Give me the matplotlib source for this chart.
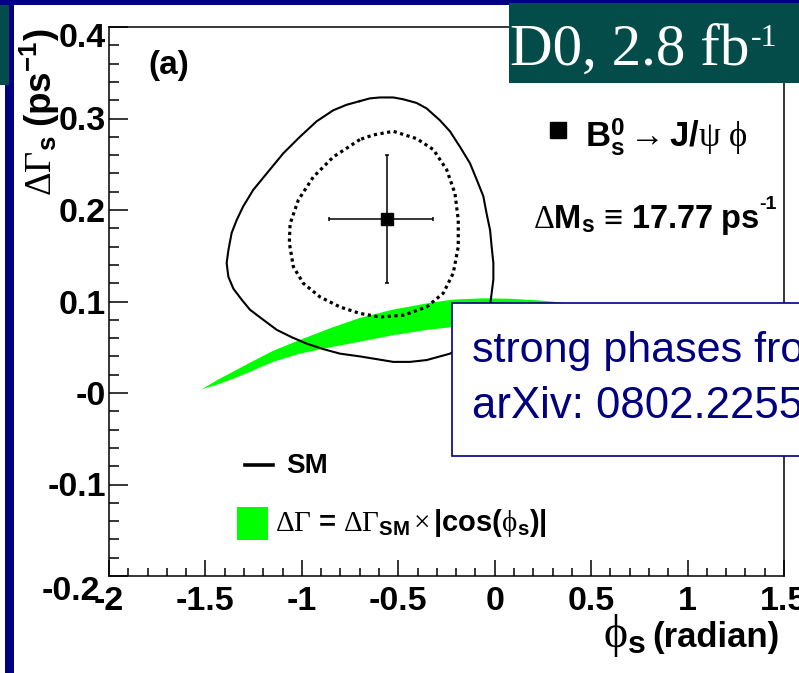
"""D0 Bs -> J/psi phi: Delta Gamma_s vs phi_s contours (slide-style reproduction)."""
import numpy as np
import matplotlib
matplotlib.use("Agg")
import matplotlib.pyplot as plt
import matplotlib.transforms as mtransforms
from matplotlib.patches import Rectangle
from matplotlib.text import Annotation
from matplotlib.ticker import MultipleLocator

# ---- values ----
# 90% CL contour (solid), clockwise from the top
solid_phi = [-0.699, -0.647, -0.595, -0.526, -0.474, -0.405, -0.353, -0.284,
             -0.232, -0.180, -0.128, -0.093, -0.059, -0.042, -0.024, -0.016,
             -0.007, -0.007, -0.016, -0.024, -0.050, -0.097, -0.164, -0.232,
             -0.353, -0.439, -0.526, -0.612, -0.699, -0.802, -0.889, -0.975,
             -1.053, -1.130, -1.200, -1.269, -1.312, -1.355, -1.381, -1.390,
             -1.381, -1.364, -1.338, -1.304, -1.252, -1.182, -1.096, -1.010,
             -0.923, -0.837, -0.768]
solid_dg = [0.319, 0.322, 0.323, 0.323, 0.321, 0.317, 0.311, 0.298,
            0.286, 0.269, 0.251, 0.233, 0.215, 0.196, 0.178, 0.160,
            0.142, 0.124, 0.109, 0.096, 0.080, 0.063, 0.051, 0.043,
            0.036, 0.034, 0.034, 0.037, 0.040, 0.043, 0.048, 0.054,
            0.061, 0.069, 0.080, 0.091, 0.102, 0.114, 0.127, 0.142,
            0.156, 0.175, 0.189, 0.204, 0.222, 0.240, 0.262, 0.280,
            0.297, 0.309, 0.315]

# 68% CL contour (dotted)
dotted_phi = [-0.699, -0.837, -0.941, -1.018, -1.061, -1.065, -1.044, -0.993,
              -0.906, -0.802, -0.699, -0.595, -0.474, -0.353, -0.267, -0.215,
              -0.189, -0.189, -0.206, -0.249, -0.318, -0.405, -0.526, -0.630]
dotted_dg = [0.277, 0.258, 0.236, 0.211, 0.185, 0.164, 0.138, 0.120,
             0.105, 0.094, 0.087, 0.083, 0.085, 0.094, 0.109, 0.131,
             0.160, 0.189, 0.218, 0.244, 0.266, 0.278, 0.286, 0.282]

# SM band: upper / lower edge
band_phi = [-1.519, -1.44, -1.35, -1.27, -1.15, -1.01, -0.85, -0.70, -0.53,
            -0.35, -0.22, -0.06, 0.08, 0.24, 0.38, 0.60, 0.90, 1.20, 1.519]
band_hi = [0.004, 0.014, 0.024, 0.033, 0.046, 0.058, 0.071, 0.082, 0.091,
           0.098, 0.102, 0.1035, 0.103, 0.101, 0.098, 0.085, 0.065, 0.038, 0.004]
band_lo = [0.004, 0.009, 0.016, 0.023, 0.034, 0.043, 0.050, 0.056, 0.063,
           0.069, 0.072, 0.074, 0.074, 0.072, 0.070, 0.061, 0.046, 0.027, 0.004]

best_phi, best_dg = -0.56, 0.19
best_phi_err = [[0.30], [0.24]]
best_dg_err = [[0.07], [0.07]]

x_ticks = [-2, -1.5, -1, -0.5, 0, 0.5, 1, 1.5]
x_ticklabels = ["-2", "-1.5", "-1", "-0.5", "0", "0.5", "1", "1.5"]
y_ticks = [-0.2, -0.1, 0, 0.1, 0.2, 0.3, 0.4]
y_ticklabels = ["-0.2", "-0.1", "-0", "0.1", "0.2", "0.3", "0.4"]

NAVY = "#000080"
TEAL = "#034C4A"
GREEN = "#00FF00"

plt.rcParams["mathtext.fontset"] = "custom"
plt.rcParams["mathtext.rm"] = "Liberation Serif"
plt.rcParams["mathtext.it"] = "Liberation Serif:italic"
plt.rcParams["mathtext.bf"] = "Liberation Sans:bold"
plt.rcParams["mathtext.sf"] = "Liberation Sans"
plt.rcParams["font.family"] = ["Liberation Sans", "DejaVu Sans"]

fig = plt.figure(figsize=(7.99, 6.73), dpi=100)
W, H = 799.0, 673.0
ax = fig.add_axes([109 / W, 97 / H, 675 / W, 549 / H])

# green SM band
ax.fill(np.concatenate([band_phi, band_phi[::-1]]),
        np.concatenate([band_hi, band_lo[::-1]]),
        color=GREEN, lw=0, zorder=1)

# contours
ax.plot(np.append(solid_phi, solid_phi[0]), np.append(solid_dg, solid_dg[0]),
        color="black", lw=1.5, zorder=3, solid_joinstyle="round")
ax.plot(np.append(dotted_phi, dotted_phi[0]), np.append(dotted_dg, dotted_dg[0]),
        color="black", lw=2.3, ls=(0, (1, 1.1)), dash_capstyle="butt", zorder=3)

# best fit point
ax.errorbar([best_phi], [best_dg], xerr=best_phi_err, yerr=best_dg_err,
            fmt="s", color="black", ms=8, lw=1.1, capsize=1.5, capthick=1.1, zorder=4)

ax.set_xlim(-2, 1.5)
ax.set_ylim(-0.2, 0.4)
ax.set_xticks(x_ticks, labels=x_ticklabels)
ax.set_yticks(y_ticks, labels=y_ticklabels)
ax.xaxis.set_minor_locator(MultipleLocator(0.1))
ax.yaxis.set_minor_locator(MultipleLocator(0.02))
ax.tick_params(axis="x", which="major", direction="in", length=11.5, width=1.1, pad=7)
ax.tick_params(axis="x", which="minor", direction="in", length=5.5, width=1.1)
ax.tick_params(axis="y", which="major", direction="in", length=13.7, width=1.1, pad=2)
ax.tick_params(axis="y", which="minor", direction="in", length=7, width=1.1)
ax.tick_params(top=False, right=False, which="both")
for sp in ax.spines.values():
    sp.set_linewidth(1.1)
for lbl in ax.get_xticklabels() + ax.get_yticklabels():
    lbl.set_fontsize(24.5)
    lbl.set_fontweight("bold")

# ROOT nudges the end labels
ylabs = ax.get_yticklabels()
ylabs[-1].set_transform(ylabs[-1].get_transform()
                        + mtransforms.ScaledTranslation(0, -0.08, fig.dpi_scale_trans))
ylabs[0].set_transform(ylabs[0].get_transform()
                       + mtransforms.ScaledTranslation(-0.06, -0.12, fig.dpi_scale_trans))

# axis titles
ax.text(0.994, -0.129, "(radian)", transform=ax.transAxes, ha="right", va="baseline",
        fontsize=25, fontweight="bold")
ax.text(0.795, -0.129, r"$\mathrm{\phi}_{\mathbf{s}}$",
        transform=ax.transAxes, ha="right", va="baseline", fontsize=33)
ax.text(-0.102, 0.998, r"$\mathrm{\Delta\Gamma}_{\mathbf{s}}\ \mathbf{(ps^{-1})}$",
        transform=ax.transAxes, ha="center", va="top", rotation=90, fontsize=26.5)

# annotations
ax.text(0.058, 0.929, "(a)", transform=ax.transAxes, ha="left", va="center",
        fontsize=24, fontweight="bold")
ax.plot([0.6657], [0.8124], "s", color="black", ms=12, transform=ax.transAxes)
ax.text(0.705, 0.7814,
        r"$\mathbf{B}_{\mathbf{s}}^{\mathbf{0}}\rightarrow\mathbf{J/}\mathrm{\psi}\ \mathrm{\phi}$",
        transform=ax.transAxes, ha="left", va="baseline", fontsize=25)
t_dm = ax.text(0.628, 0.634,
               r"$\mathrm{\Delta}\mathbf{M}_{\mathbf{s}}\,\mathbf{\equiv}\,\mathbf{17.77\ ps}$",
               transform=ax.transAxes, ha="left", va="baseline", fontsize=23.5)
ax.annotate("-1", xy=(1, 1), xycoords=t_dm, xytext=(0, 5), textcoords="offset points",
            ha="left", va="top", fontsize=14, fontweight="bold")

# legend
ax.plot([0.2015, 0.243], [0.2022, 0.2022], color="black", lw=2.6, transform=ax.transAxes)
ax.text(0.262, 0.2004, "SM", transform=ax.transAxes, ha="left", va="center",
        fontsize=20, fontweight="bold")
ax.add_patch(Rectangle((0.189, 0.0656), 0.047, 0.0604, transform=ax.transAxes,
                       color=GREEN, lw=0))
ax.text(0.246, 0.0965,
        r"$\mathrm{\Delta\Gamma}\,\mathbf{=}\,\mathrm{\Delta\Gamma}_{\mathbf{SM}}\,"
        r"\mathrm{\times}\,\mathbf{|cos(}\mathrm{\phi}_{\mathbf{s}}\mathbf{)|}$",
        transform=ax.transAxes, ha="left", va="center", fontsize=21)

# ---- slide decorations ----
tf = fig.transFigure
fig.add_artist(Rectangle((0, 1 - 5 / H), 1, 5 / H, transform=tf, color=NAVY, lw=0, zorder=20))
fig.add_artist(Rectangle((5 / W, 0), 9 / W, 1, transform=tf, color=NAVY, lw=0, zorder=20))
fig.add_artist(Rectangle((0, 1 - 85 / H), 9 / W, 80 / H, transform=tf, color=TEAL, lw=0, zorder=21))
fig.add_artist(Rectangle((509 / W, 1 - 83 / H), 1, 80 / H, transform=tf, color=TEAL, lw=0, zorder=21))
t_d0 = fig.text(510 / W, 1 - 65 / H, "D0, 2.8 fb", color="white",
                family="Liberation Serif", fontsize=42.5, ha="left", va="baseline", zorder=22)
fig.add_artist(Annotation("-1", xy=(1, 1), xycoords=t_d0, xytext=(1, 0),
                          textcoords="offset points", ha="left", va="top", color="white",
                          family="Liberation Serif", fontsize=23, zorder=22))

fig.add_artist(Rectangle((452 / W, 1 - 456 / H), 0.5, 153 / H, transform=tf,
                         facecolor="white", edgecolor=NAVY, lw=1.2, zorder=20))
fig.text(471.7 / W, 1 - 361.7 / H, "strong phases from", color=NAVY,
         family="Liberation Sans", fontsize=31, ha="left", va="baseline", zorder=22)
fig.text(471.7 / W, 1 - 418 / H, "arXiv: 0802.2255", color=NAVY,
         family="Liberation Sans", fontsize=31.5, ha="left", va="baseline", zorder=22)

fig.savefig("out.png", dpi=100)
